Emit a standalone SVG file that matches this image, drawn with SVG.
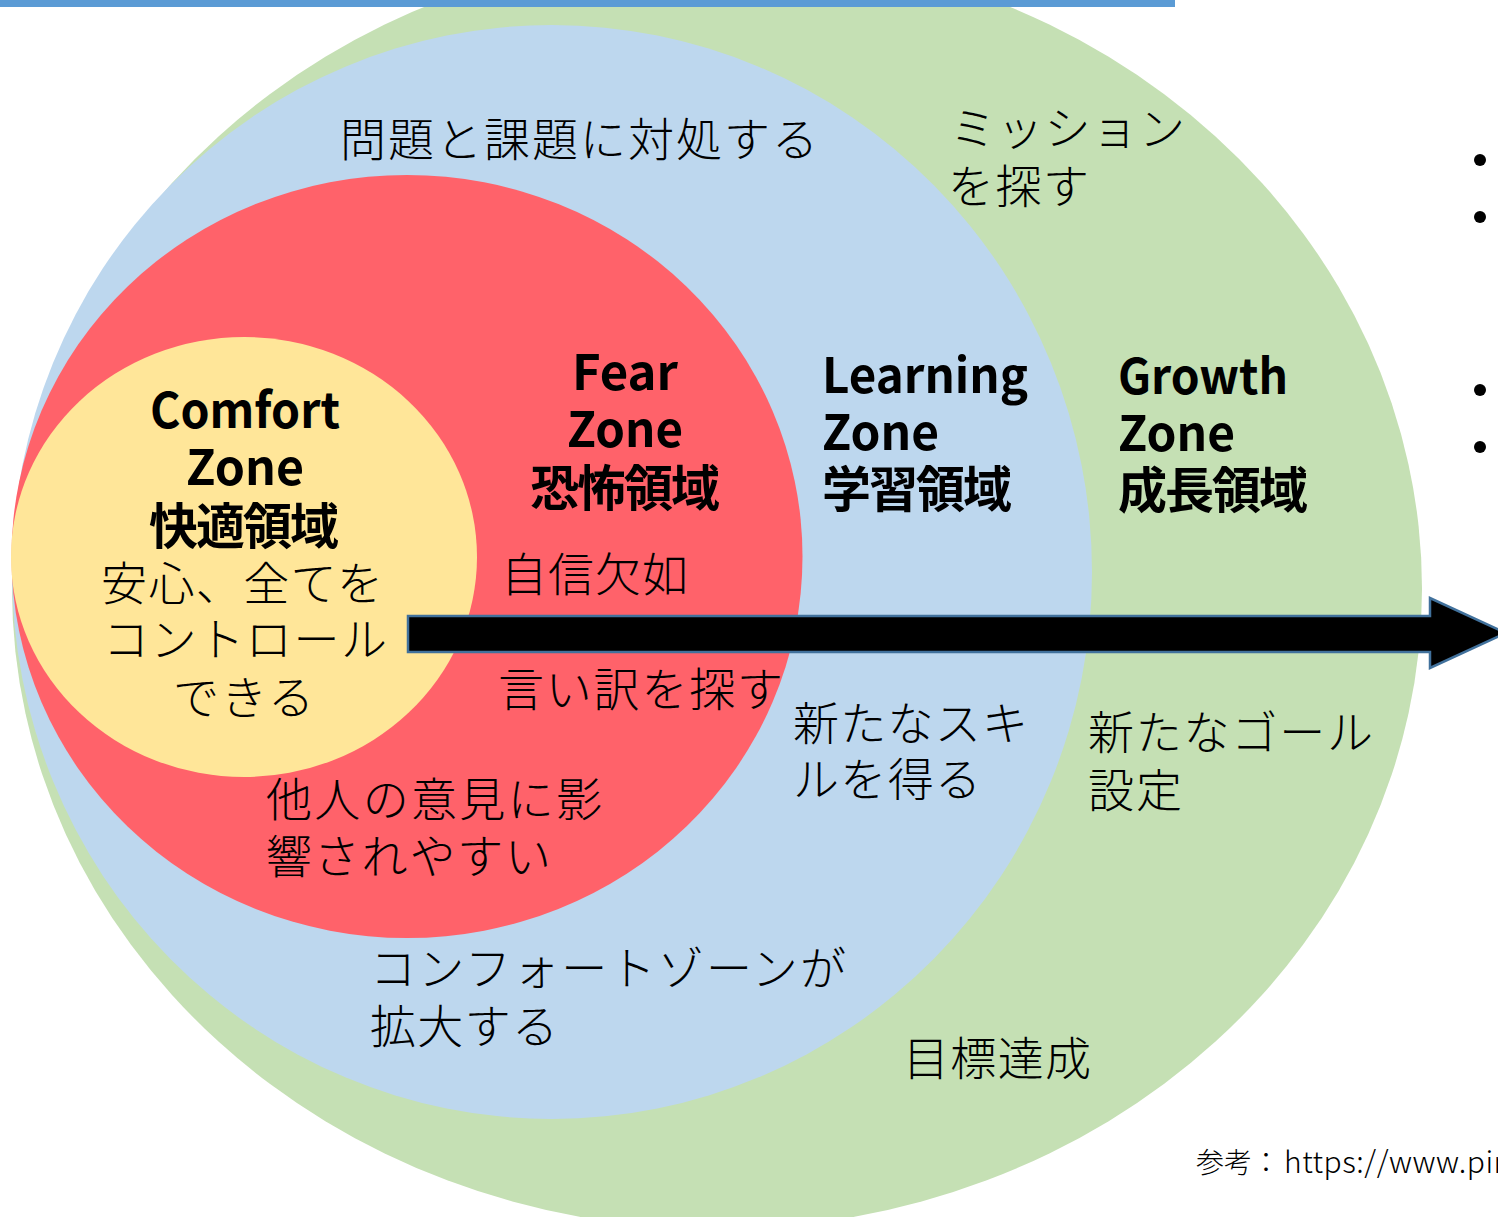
<svg xmlns="http://www.w3.org/2000/svg" width="1498" height="1217" viewBox="0 0 1498 1217">
<style>
.t{font-family:"Noto Sans CJK JP","Noto Sans",sans-serif;font-size:46px;font-weight:300;fill:#000}
.h{font-family:"Noto Sans CJK JP","Noto Sans",sans-serif;font-size:49px;font-weight:700;fill:#000}
.s{font-family:"Noto Sans CJK JP","Noto Sans",sans-serif;font-size:28px;font-weight:300;fill:#000}
</style>
<rect width="1498" height="1217" fill="#ffffff"/>
<g id="growth-zone">
<ellipse cx="717" cy="589" rx="705" ry="640" fill="#C5E0B4"/>
<text class="h" x="1118" y="394" textLength="170" lengthAdjust="spacingAndGlyphs">Growth</text>
<text class="h" x="1118" y="451" textLength="117" lengthAdjust="spacingAndGlyphs">Zone</text>
<text class="h" x="1118" y="508" textLength="190">成長領域</text>
<text class="t" x="950" y="145" textLength="235">ミッション</text>
<text class="t" x="948" y="203" textLength="141">を探す</text>
<text class="t" x="1088" y="749" textLength="285">新たなゴール</text>
<text class="t" x="1088" y="807" textLength="94">設定</text>
<text class="t" x="903" y="1075" textLength="188">目標達成</text>
</g>
<g id="learning-zone">
<ellipse cx="552" cy="572" rx="540" ry="547" fill="#BDD7EE"/>
<text class="h" x="822" y="393" textLength="206" lengthAdjust="spacingAndGlyphs">Learning</text>
<text class="h" x="822" y="450" textLength="117" lengthAdjust="spacingAndGlyphs">Zone</text>
<text class="h" x="822" y="507" textLength="190">学習領域</text>
<text class="t" x="340" y="156" textLength="478">問題と課題に対処する</text>
<text class="t" x="793" y="740" textLength="235">新たなスキ</text>
<text class="t" x="793" y="796" textLength="188">ルを得る</text>
<text class="t" x="370" y="985" textLength="476">コンフォートゾーンが</text>
<text class="t" x="370" y="1043" textLength="188">拡大する</text>
</g>
<g id="fear-zone">
<ellipse cx="407" cy="556.5" rx="395.5" ry="381.5" fill="#FF626A"/>
<text class="h" x="572" y="390" textLength="106" lengthAdjust="spacingAndGlyphs">Fear</text>
<text class="h" x="567" y="447" textLength="116" lengthAdjust="spacingAndGlyphs">Zone</text>
<text class="h" x="530" y="506" textLength="190">恐怖領域</text>
<text class="t" x="501" y="591" textLength="187">自信欠如</text>
<text class="t" x="498" y="706" textLength="285">言い訳を探す</text>
<text class="t" x="266" y="816" textLength="336">他人の意見に影</text>
<text class="t" x="266" y="873" textLength="285">響されやすい</text>
</g>
<g id="comfort-zone">
<ellipse cx="244" cy="557" rx="233" ry="220" fill="#FFE699"/>
<text class="h" x="150" y="428" textLength="190" lengthAdjust="spacingAndGlyphs">Comfort</text>
<text class="h" x="186" y="485" textLength="118" lengthAdjust="spacingAndGlyphs">Zone</text>
<text class="h" x="149" y="544" textLength="190">快適領域</text>
<text class="t" x="101" y="600" textLength="282">安心、全てを</text>
<text class="t" x="103" y="656" textLength="284">コントロール</text>
<text class="t" x="173" y="714" textLength="141">できる</text>
</g>
<g id="connectors">
<polygon points="408,616 1430,616 1430,598 1506,633 1430,668 1430,652 408,652" fill="#000" stroke="#41719C" stroke-width="2.5" stroke-linejoin="miter"/>
</g>
<g id="top-bar">
<rect x="0" y="0" width="1175" height="7" fill="#5B9BD5"/>
</g>
<g id="bullets" fill="#000">
<circle cx="1480" cy="160" r="6"/>
<circle cx="1480" cy="217" r="6"/>
<circle cx="1480" cy="390" r="6"/>
<circle cx="1480" cy="447" r="6"/>
</g>
<g id="source">
<text class="s" x="1196" y="1173">参考：<tspan x="1284" font-size="30" letter-spacing="0.5">https://www.pin</tspan></text>
</g>
</svg>
